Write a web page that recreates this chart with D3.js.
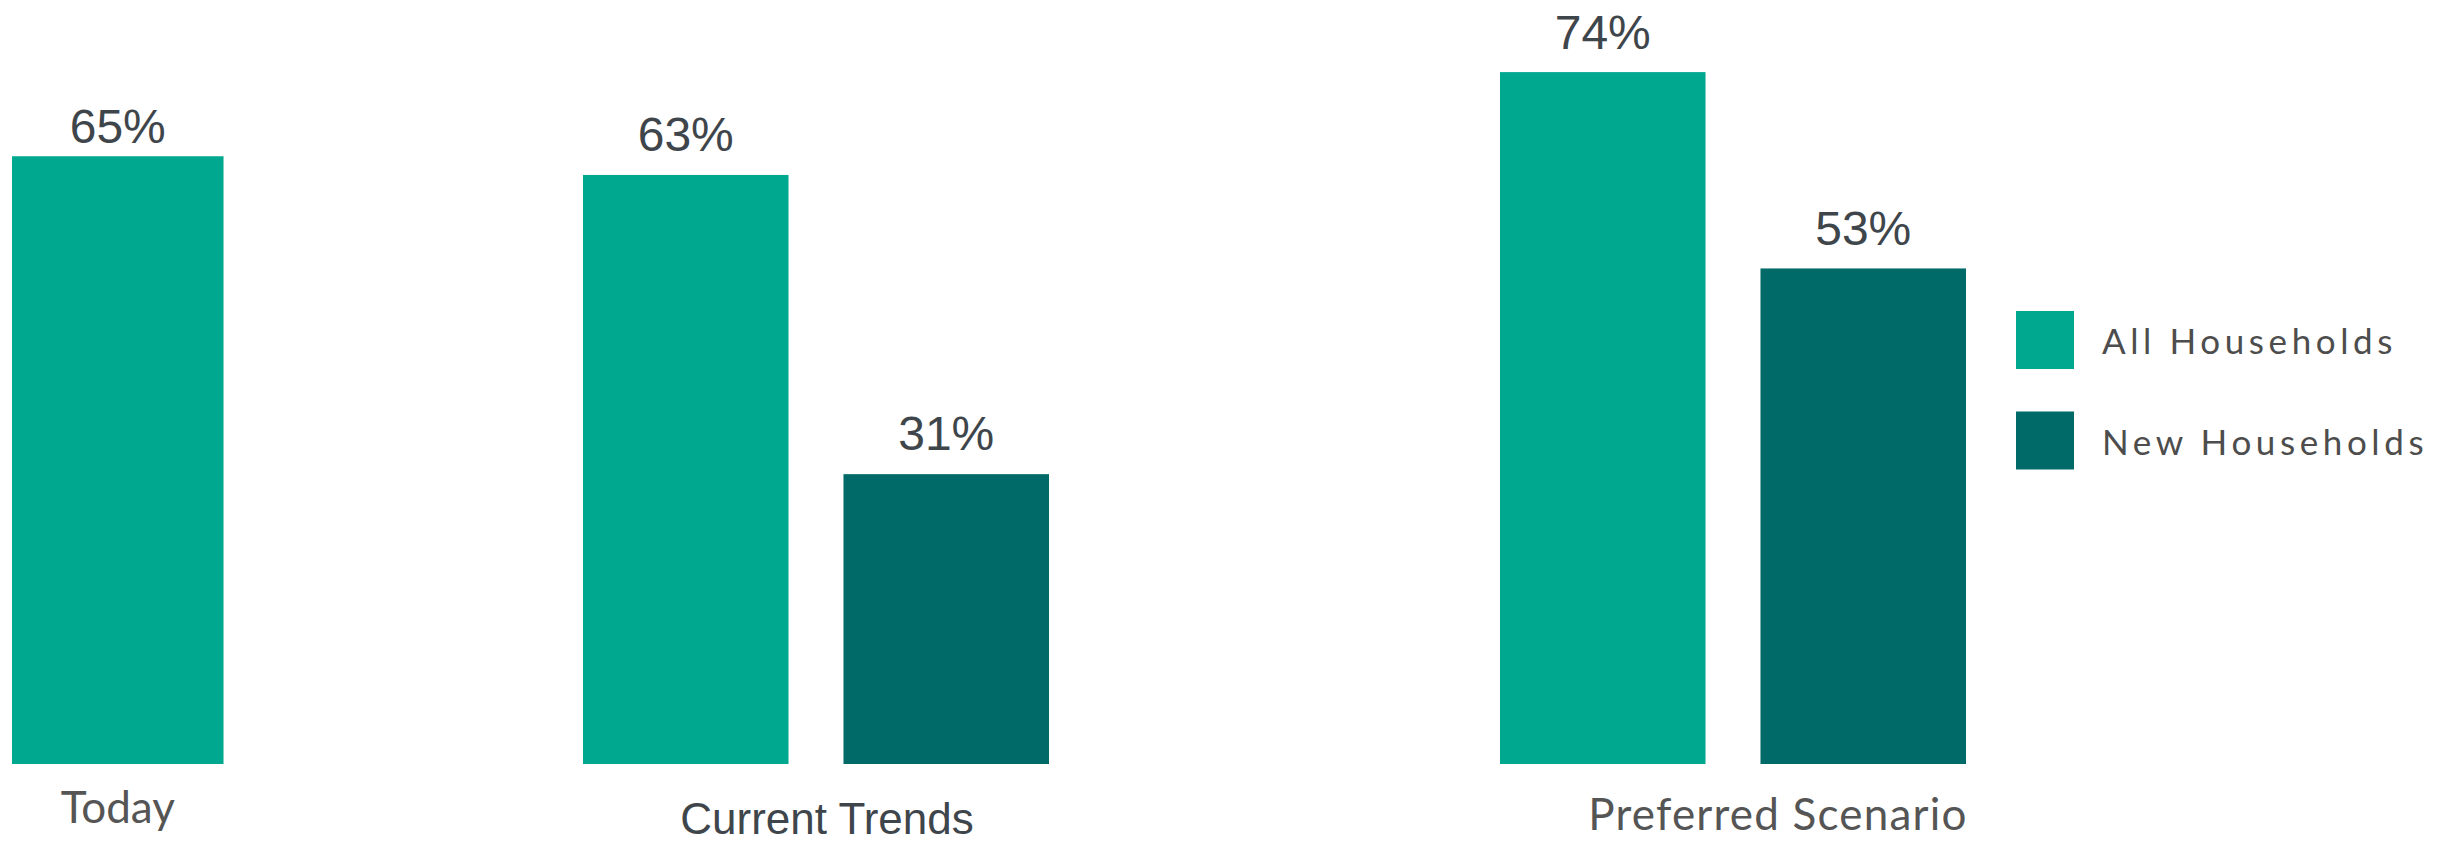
<!DOCTYPE html>
<html lang="en">
<head>
  <meta charset="UTF-8">
  <title>Households</title>
  <script src="https://d3js.org/d3.v7.min.js"></script>
  <style>
    body { margin: 0; background: #fff; }
    svg { display: block; }
  </style>
</head>
<body>
  <svg id="chart" width="2443" height="845"></svg>
  <script>
    // data
    const categories = ["Today", "Current Trends", "Preferred Scenario"];
    const series = ["All Households", "New Households"];
    const allHouseholds = [65, 63, 74];
    const newHouseholds = [null, 31, 53];

    // layout (hand placed, the source image is not evenly spaced)
    const groupLeft = [12, 583, 1500];
    const labelDx = [0, 11, 45];
    const labelY = [823, 834, 830];
    const labelFont = ["Lato", "Liberation Sans", "Lato"];
    const labelSpacing = [0, 0, 1.2];
    const valueGap = [13, 24, 23];
    const colors = ["#00a88f", "#006a68"];

    const svg = d3.select("#chart");

    const x0 = d3.scaleOrdinal().domain(categories).range(groupLeft);
    const x1 = d3.scaleBand().domain(series).range([0, 466]).paddingInner(0.211);
    const y = d3.scaleLinear().domain([0, 100]).range([764, -171]);
    const color = d3.scaleOrdinal().domain(series).range(colors);

    // single bar groups get a slightly wider bar, like the source
    const barW = ci => newHouseholds[ci] == null ? x1.bandwidth() + 6 : x1.bandwidth();

    const rows = [];
    categories.forEach((c, i) => {
      [allHouseholds[i], newHouseholds[i]].forEach((v, j) => {
        if (v != null) rows.push({ cat: c, ci: i, s: series[j], v: v });
      });
    });

    svg.append("g").selectAll("rect")
      .data(rows)
      .enter().append("rect")
      .attr("x", d => x0(d.cat) + x1(d.s))
      .attr("y", d => y(d.v))
      .attr("width", d => barW(d.ci))
      .attr("height", d => y(0) - y(d.v))
      .attr("fill", d => color(d.s));

    svg.append("g").selectAll("text")
      .data(rows)
      .enter().append("text")
      .attr("x", d => x0(d.cat) + x1(d.s) + barW(d.ci) / 2)
      .attr("y", d => y(d.v) - valueGap[d.ci])
      .attr("text-anchor", "middle")
      .attr("font-family", "Liberation Sans, Arial, sans-serif")
      .attr("font-size", 48)
      .attr("fill", "#3f464b")
      .text(d => d.v + "%");

    // category labels
    svg.append("g").selectAll("text")
      .data(categories)
      .enter().append("text")
      .attr("x", (d, i) => {
        const w = newHouseholds[i] == null ? barW(i) : 466;
        return x0(d) + w / 2 + labelDx[i];
      })
      .attr("y", (d, i) => labelY[i])
      .attr("text-anchor", "middle")
      .attr("font-family", (d, i) => labelFont[i] + ", sans-serif")
      .attr("font-size", 44)
      .attr("letter-spacing", (d, i) => labelSpacing[i])
      .attr("fill", (d, i) => i === 1 ? "#3f464b" : "#555")
      .text(d => d);

    // legend
    const legend = svg.append("g")
      .attr("transform", "translate(2016,311)")
      .selectAll("g")
      .data(series)
      .enter().append("g")
      .attr("transform", (d, i) => `translate(0,${i * 100.5})`);

    legend.append("rect")
      .attr("width", 58)
      .attr("height", 58)
      .attr("fill", d => color(d));

    legend.append("text")
      .attr("x", 86)
      .attr("y", 43)
      .attr("font-family", "Lato, sans-serif")
      .attr("font-size", 35)
      .attr("letter-spacing", 4.6)
      .attr("fill", "#4d4d4d")
      .text(d => d);
  </script>
</body>
</html>
